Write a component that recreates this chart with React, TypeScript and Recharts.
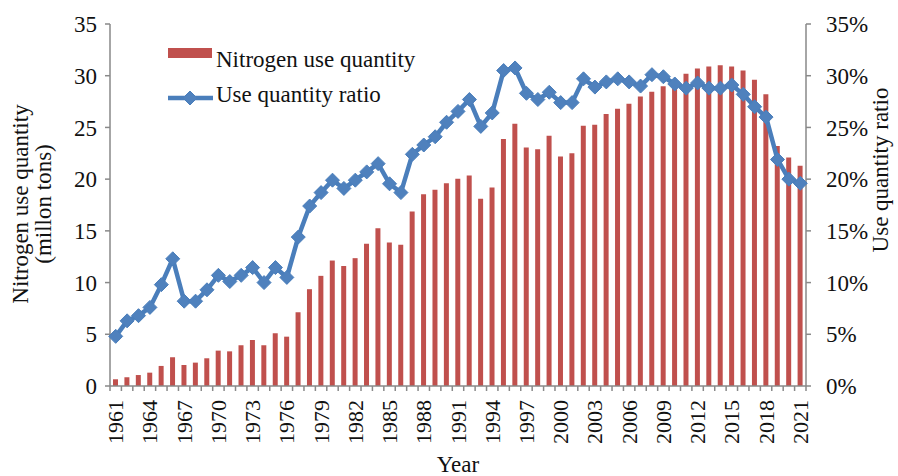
import { ComposedChart, Bar, Line, XAxis, YAxis, Legend } from 'recharts';

const years = [
  1961, 1962, 1963, 1964, 1965, 1966, 1967, 1968, 1969, 1970,
  1971, 1972, 1973, 1974, 1975, 1976, 1977, 1978, 1979, 1980,
  1981, 1982, 1983, 1984, 1985, 1986, 1987, 1988, 1989, 1990,
  1991, 1992, 1993, 1994, 1995, 1996, 1997, 1998, 1999, 2000,
  2001, 2002, 2003, 2004, 2005, 2006, 2007, 2008, 2009, 2010,
  2011, 2012, 2013, 2014, 2015, 2016, 2017, 2018, 2019, 2020,
  2021,
];

// million tons
const nitrogenUse = [
  0.65, 0.84, 1.06, 1.29, 1.94, 2.78, 2.03, 2.26, 2.68, 3.42,
  3.35, 3.94, 4.45, 3.94, 5.1, 4.77, 7.13, 9.36, 10.65, 12.13,
  11.6, 12.36, 13.75, 15.26, 13.87, 13.65, 16.87, 18.55, 18.97, 19.6,
  20.04, 20.36, 18.1, 19.2, 23.88, 25.36, 23.07, 22.9, 24.2, 22.2,
  22.5, 25.17, 25.27, 26.3, 26.8, 27.3, 28.0, 28.46, 28.97, 29.6,
  30.2, 30.7, 30.9, 31.0, 30.9, 30.5, 29.6, 28.2, 23.2, 22.1,
  21.3,
];

// percent
const useRatio = [
  4.8, 6.3, 6.8, 7.6, 9.8, 12.3, 8.2, 8.2, 9.3, 10.7,
  10.1, 10.7, 11.45, 10.0, 11.45, 10.5, 14.4, 17.4, 18.7, 19.9,
  19.1, 19.9, 20.7, 21.5, 19.55, 18.7, 22.4, 23.3, 24.1, 25.5,
  26.55, 27.7, 25.1, 26.4, 30.5, 30.75, 28.3, 27.7, 28.4, 27.4,
  27.4, 29.7, 28.9, 29.4, 29.7, 29.4, 29.0, 30.1, 29.9, 29.2,
  28.8, 29.3, 28.8, 28.8, 29.1, 28.2, 27.0, 26.0, 21.9, 20.0,
  19.6,
];

const leftTicks = [0, 5, 10, 15, 20, 25, 30, 35];
const rightTicks = [0, 5, 10, 15, 20, 25, 30, 35];

const data = years.map((year, i) => ({
  year,
  quantity: nitrogenUse[i],
  ratio: useRatio[i],
}));

const FONT = 'Liberation Serif';
const AXIS_GREY = '#898989';
const BAR_RED = '#C0504D';
const LINE_BLUE = '#4A7EBB';

const Diamond = ({ cx, cy, r = 7, fill = '#4F81BD' }: any) => (
  <path d={`M${cx},${cy - r}L${cx + r},${cy}L${cx},${cy + r}L${cx - r},${cy}Z`} fill={fill} stroke={LINE_BLUE} strokeWidth={1} />
);

const YearTick = (props: any) => {
  const { x, y, payload, index, width } = props;
  const band = (width || 696) / years.length;
  const i = payload?.index ?? index;
  const ty = y + 14;
  return (
    <g>
      <line x1={x - band / 2} x2={x - band / 2} y1={y} y2={y + 5} stroke={AXIS_GREY} strokeWidth={1.5} />
      {i === years.length - 1 && (
        <line x1={x + band / 2} x2={x + band / 2} y1={y} y2={y + 5} stroke={AXIS_GREY} strokeWidth={1.5} />
      )}
      {i % 3 === 0 && (
        <text
          x={x}
          y={ty}
          transform={`rotate(-90 ${x} ${ty})`}
          textAnchor="end"
          dominantBaseline="central"
          fontFamily={FONT}
          fontSize={22}
          fill="#111"
        >
          {payload.value}
        </text>
      )}
    </g>
  );
};

const ChartLegend = () => (
  <svg width={300} height={80} style={{ display: 'block' }}>
    <rect x={8} y={13} width={44} height={10} fill={BAR_RED} />
    <text x={56} y={32} fontFamily={FONT} fontSize={23} fill="#111">Nitrogen use quantity</text>
    <line x1={8} x2={53} y1={63} y2={63} stroke={LINE_BLUE} strokeWidth={4.5} />
    <Diamond cx={30} cy={63} r={7} />
    <text x={56} y={67} fontFamily={FONT} fontSize={23} fill="#111">Use quantity ratio</text>
  </svg>
);

export default function App() {
  return (
    <div style={{ position: 'absolute', left: 0, top: 0, background: '#fff' }}>
      <ComposedChart
        width={898}
        height={476}
        data={data}
        margin={{ top: 24, right: 0, bottom: 0, left: 0 }}
        barCategoryGap={0}
      >
        <XAxis
          dataKey="year"
          height={90}
          interval={0}
          tickLine={false}
          tickSize={0}
          tickMargin={0}
          axisLine={{ stroke: AXIS_GREY, strokeWidth: 1.5 }}
          tick={<YearTick />}
          label={{
            content: () => (
              <text x={458} y={472} textAnchor="middle" fontFamily={FONT} fontSize={23} fill="#111">
                Year
              </text>
            ),
          }}
        />
        <YAxis
          yAxisId="left"
          width={110}
          domain={[0, 35]}
          ticks={leftTicks}
          interval={0}
          tickSize={5}
          tickMargin={8}
          axisLine={{ stroke: AXIS_GREY, strokeWidth: 1.5 }}
          tickLine={{ stroke: AXIS_GREY, strokeWidth: 1.5 }}
          tick={{ fill: '#111', fontSize: 23, fontFamily: FONT }}
          label={{
            content: () => (
              <g fontFamily={FONT} fontSize={23} fill="#111">
                <text x={28} y={204} textAnchor="middle" transform="rotate(-90 28 204)">
                  Nitrogen use quantity
                </text>
                <text x={51} y={204} textAnchor="middle" transform="rotate(-90 51 204)">
                  (millon tons)
                </text>
              </g>
            ),
          }}
        />
        <YAxis
          yAxisId="right"
          orientation="right"
          width={92}
          domain={[0, 35]}
          ticks={rightTicks}
          interval={0}
          tickSize={5}
          tickMargin={15}
          tickFormatter={(v: number) => `${v}%`}
          axisLine={{ stroke: AXIS_GREY, strokeWidth: 1.5 }}
          tickLine={{ stroke: AXIS_GREY, strokeWidth: 1.5 }}
          tick={{ fill: '#111', fontSize: 23, fontFamily: FONT }}
          label={{
            content: () => (
              <text
                x={888}
                y={170}
                textAnchor="middle"
                transform="rotate(-90 888 170)"
                fontFamily={FONT}
                fontSize={23}
                fill="#111"
              >
                Use quantity ratio
              </text>
            ),
          }}
        />
        <Legend
          layout="vertical"
          align="center"
          verticalAlign="middle"
          wrapperStyle={{ left: 160, top: 35, width: 300 }}
          content={() => <ChartLegend />}
        />
        <Bar
          yAxisId="left"
          dataKey="quantity"
          name="Nitrogen use quantity"
          fill={BAR_RED}
          barSize={5}
          isAnimationActive={false}
        />
        <Line
          yAxisId="right"
          dataKey="ratio"
          name="Use quantity ratio"
          stroke={LINE_BLUE}
          strokeWidth={4.5}
          dot={(p: any) => <Diamond key={`dot-${p.index}`} cx={p.cx} cy={p.cy} r={7} />}
          activeDot={false}
          isAnimationActive={false}
        />
      </ComposedChart>
    </div>
  );
}
